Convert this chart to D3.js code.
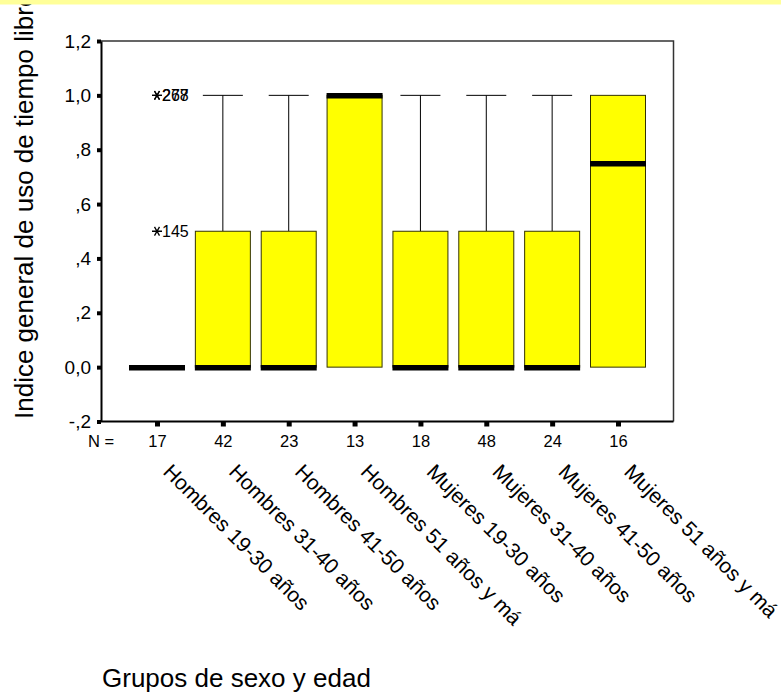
<!DOCTYPE html>
<html>
<head>
<meta charset="utf-8">
<script src="https://cdn.jsdelivr.net/npm/d3@7"></script>
<style>
	body { margin: 0; background: #fff; }
	svg { display: block; font-family: Arial, 'Liberation Sans', sans-serif; }
	.axis path { stroke: #000; stroke-width: 2; }
	.axis line { stroke: #000; }
	.axis text { fill: #000; }
</style>
</head>
<body>
<svg id="box-chart" width="781" height="694"></svg>
<script>
// data
var categories = ['Hombres 19-30 años', 'Hombres 31-40 años', 'Hombres 41-50 años', 'Hombres 51 años y má',
	'Mujeres 19-30 años', 'Mujeres 31-40 años', 'Mujeres 41-50 años', 'Mujeres 51 años y má'];
var nValues = [17, 42, 23, 13, 18, 48, 24, 16];
var whiskerLow = [0, 0, 0, 0, 0, 0, 0, 0];
var q1Values = [0, 0, 0, 0, 0, 0, 0, 0];
var medianValues = [0, 0, 0, 1, 0, 0, 0, 0.75];
var q3Values = [0, 0.5, 0.5, 1, 0.5, 0.5, 0.5, 1];
var whiskerHigh = [0, 1, 1, 1, 1, 1, 1, 1];
var outlierCats = [0, 0, 0];
var outlierValues = [1, 1, 0.5];
var outlierLabels = ['268', '277', '145'];
var yTickValues = [-0.2, 0, 0.2, 0.4, 0.6, 0.8, 1.0, 1.2];
var yTickLabels = ['-,2', '0,0', ',2', ',4', ',6', ',8', '1,0', '1,2'];

(function() {
	'use strict';

	var svg = d3.select('#box-chart'),
		left = 101,
		right = 673.5,
		top = 41,
		bottom = 421.5;

	var xScale = d3.scalePoint()
			.domain(d3.range(categories.length))
			.range([157, 618]);

	var boxWidth = 55,
		capWidth = 40;

	var yScale = d3.scaleLinear()
			.domain([-0.2, 1.2])
			.range([bottom, top]);

	// frame (top + right)
	svg.append('path')
		.attr('d', 'M' + left + ',' + top + 'H' + right + 'V' + bottom)
		.attr('fill', 'none')
		.attr('stroke', '#333')
		.attr('stroke-width', 1.5);

	var data = categories.map(function(c, i) {
		return {i: i, lo: whiskerLow[i], q1: q1Values[i], med: medianValues[i], q3: q3Values[i], hi: whiskerHigh[i]};
	});

	var g = svg.append('g');

	// whiskers
	var whisk = data.filter(function(d) { return d.hi > d.q3; });
	g.selectAll('.whisker')
		.data(whisk)
		.enter()
		.append('line')
		.attr('x1', function(d) { return xScale(d.i); })
		.attr('x2', function(d) { return xScale(d.i); })
		.attr('y1', function(d) { return yScale(d.q3); })
		.attr('y2', function(d) { return yScale(d.hi); })
		.attr('stroke', '#000')
		.attr('stroke-width', 1);

	g.selectAll('.cap')
		.data(whisk)
		.enter()
		.append('line')
		.attr('x1', function(d) { return xScale(d.i) - capWidth / 2; })
		.attr('x2', function(d) { return xScale(d.i) + capWidth / 2; })
		.attr('y1', function(d) { return yScale(d.hi); })
		.attr('y2', function(d) { return yScale(d.hi); })
		.attr('stroke', '#000')
		.attr('stroke-width', 1);

	// boxes
	g.selectAll('.box')
		.data(data.filter(function(d) { return d.q3 > d.q1; }))
		.enter()
		.append('rect')
		.attr('x', function(d) { return xScale(d.i) - boxWidth / 2; })
		.attr('y', function(d) { return yScale(d.q3); })
		.attr('width', boxWidth)
		.attr('height', function(d) { return yScale(d.q1) - yScale(d.q3); })
		.attr('fill', '#ffff00')
		.attr('stroke', '#333300')
		.attr('stroke-width', 1);

	// medians
	g.selectAll('.median')
		.data(data)
		.enter()
		.append('line')
		.attr('x1', function(d) { return xScale(d.i) - boxWidth / 2 - 0.5; })
		.attr('x2', function(d) { return xScale(d.i) + boxWidth / 2 + 0.5; })
		.attr('y1', function(d) { return yScale(d.med) + 0.5; })
		.attr('y2', function(d) { return yScale(d.med) + 0.5; })
		.attr('stroke', '#000')
		.attr('stroke-width', 5.5);

	// outliers (asterisks)
	var star = function(r) {
		var p = '';
		[0, 60, 120].forEach(function(a) {
			var rad = a * Math.PI / 180,
				dx = r * Math.cos(rad),
				dy = r * Math.sin(rad);
			p += 'M' + (-dx) + ',' + (-dy) + 'L' + dx + ',' + dy;
		});
		return p;
	};
	outlierValues.forEach(function(v, k) {
		var cx = xScale(outlierCats[k]),
			cy = yScale(v);
		g.append('path')
			.attr('d', star(5))
			.attr('transform', 'translate(' + cx + ',' + cy + ')')
			.attr('stroke', '#000')
			.attr('stroke-width', 1.3);
		g.append('text')
			.attr('x', cx + 5)
			.attr('y', cy + 5.5)
			.attr('font-size', 16)
			.text(outlierLabels[k]);
	});

	// axes
	var yAxis = d3.axisLeft(yScale)
			.tickValues(yTickValues)
			.tickFormat(function(d, i) { return yTickLabels[i]; })
			.tickSizeInner(4)
			.tickSizeOuter(0)
			.tickPadding(6);

	var yG = svg.append('g')
		.attr('class', 'axis')
		.attr('transform', 'translate(' + left + ',0)')
		.call(yAxis);
	yG.selectAll('line').attr('stroke-width', 4);
	yG.selectAll('text').attr('font-size', 19).attr('font-family', 'inherit');

	var xAxis = d3.axisBottom(xScale)
			.tickFormat(function(d, i) { return nValues[i]; })
			.tickSizeInner(5)
			.tickSizeOuter(0)
			.tickPadding(8.5);

	var xG = svg.append('g')
		.attr('class', 'axis')
		.attr('transform', 'translate(0,' + bottom + ')')
		.call(xAxis);
	xG.select('.domain').attr('d', 'M' + left + ',0H' + right);
	xG.selectAll('line').attr('stroke-width', 5);
	xG.selectAll('text').attr('font-size', 16.5).attr('font-family', 'inherit');

	svg.append('text')
		.attr('x', 88)
		.attr('y', 446.5)
		.attr('font-size', 16.5)
		.text('N =');

	// category labels, rotated
	svg.selectAll('.cat-label')
		.data(categories)
		.enter()
		.append('text')
		.attr('transform', function(d, i) {
			return 'translate(' + (xScale(i) + 5) + ',' + 473 + ') rotate(45)';
		})
		.attr('font-size', 21)
		.text(function(d) { return d; });

	// axis titles
	svg.append('text')
		.attr('transform', 'translate(33,419) rotate(-90)')
		.attr('font-size', 26)
		.text('Indice general de uso de tiempo libre');

	svg.append('text')
		.attr('x', 102)
		.attr('y', 687)
		.attr('font-size', 26)
		.text('Grupos de sexo y edad');

	// top band
	svg.append('rect')
		.attr('x', 0)
		.attr('y', 0)
		.attr('width', 781)
		.attr('height', 4.5)
		.attr('fill', '#ffff99');
})();
</script>
</body>
</html>
